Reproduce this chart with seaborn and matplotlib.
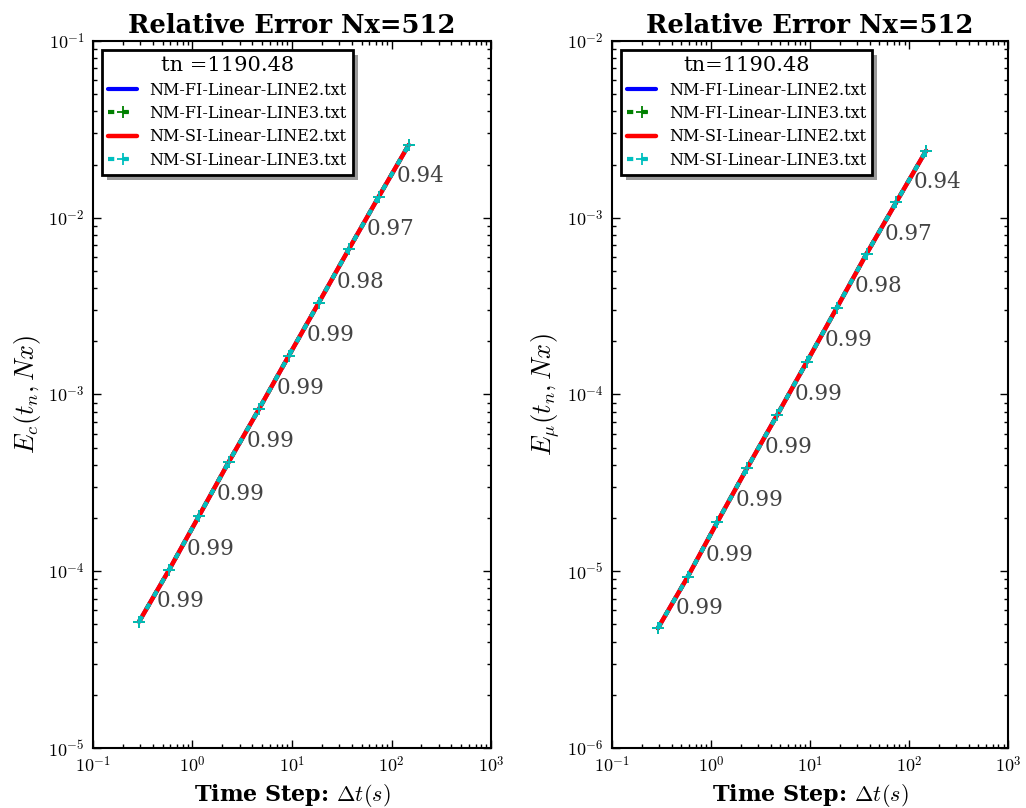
import numpy as np
import pandas as pd
import matplotlib
matplotlib.use("Agg")
import matplotlib.pyplot as plt
import seaborn as sns
from matplotlib.ticker import LogLocator, FuncFormatter, NullFormatter

# ---------------- data ----------------
dt = [0.2906, 0.5813, 1.1626, 2.3252, 4.6503, 9.3006, 18.601, 37.203, 74.405, 148.81]

err_c_FI_L2 = [5.18e-5, 1.016e-4, 2.054e-4, 4.17e-4, 8.25e-4, 1.658e-3, 3.307e-3, 6.63e-3, 1.315e-2, 2.58e-2]
err_c_FI_L3 = [5.18e-5, 1.016e-4, 2.054e-4, 4.17e-4, 8.25e-4, 1.658e-3, 3.307e-3, 6.63e-3, 1.315e-2, 2.58e-2]
err_c_SI_L2 = [5.18e-5, 1.016e-4, 2.054e-4, 4.17e-4, 8.25e-4, 1.658e-3, 3.307e-3, 6.63e-3, 1.315e-2, 2.58e-2]
err_c_SI_L3 = [5.18e-5, 1.016e-4, 2.054e-4, 4.17e-4, 8.25e-4, 1.658e-3, 3.307e-3, 6.63e-3, 1.315e-2, 2.58e-2]

err_mu_FI_L2 = [4.755e-6, 9.29e-6, 1.905e-5, 3.853e-5, 7.64e-5, 1.531e-4, 3.085e-4, 6.245e-4, 1.226e-3, 2.395e-3]
err_mu_FI_L3 = [4.755e-6, 9.29e-6, 1.905e-5, 3.853e-5, 7.64e-5, 1.531e-4, 3.085e-4, 6.245e-4, 1.226e-3, 2.395e-3]
err_mu_SI_L2 = [4.755e-6, 9.29e-6, 1.905e-5, 3.853e-5, 7.64e-5, 1.531e-4, 3.085e-4, 6.245e-4, 1.226e-3, 2.395e-3]
err_mu_SI_L3 = [4.755e-6, 9.29e-6, 1.905e-5, 3.853e-5, 7.64e-5, 1.531e-4, 3.085e-4, 6.245e-4, 1.226e-3, 2.395e-3]

rates_c = ["0.99", "0.99", "0.99", "0.99", "0.99", "0.99", "0.98", "0.97", "0.94"]
rates_mu = ["0.99", "0.99", "0.99", "0.99", "0.99", "0.99", "0.98", "0.97", "0.94"]

series_names = ["NM-FI-Linear-LINE2.txt", "NM-FI-Linear-LINE3.txt",
                "NM-SI-Linear-LINE2.txt", "NM-SI-Linear-LINE3.txt"]
legend_titles = ["tn =1190.48", "tn=1190.48"]
titles = ["Relative Error Nx=512", "Relative Error Nx=512"]
ylabels = [r"$E_c(t_n,Nx)$", r"$E_{\mu}(t_n,Nx)$"]
xlabel_bold = "Time Step: "
xlabel_math = r"$\Delta t(s)$"

# ---------------- style ----------------
sns.set_style("ticks")
plt.rcParams["font.family"] = ["DejaVu Serif"]
plt.rcParams["mathtext.fontset"] = "cm"
plt.rcParams["axes.linewidth"] = 1.5
plt.rcParams["axes.edgecolor"] = "black"
plt.rcParams["text.color"] = "black"
plt.rcParams["axes.labelcolor"] = "black"
plt.rcParams["xtick.color"] = "black"
plt.rcParams["ytick.color"] = "black"
plt.rcParams["xtick.direction"] = "in"
plt.rcParams["ytick.direction"] = "in"
plt.rcParams["xtick.top"] = True
plt.rcParams["ytick.right"] = True
plt.rcParams["lines.scale_dashes"] = True

colors = ["#0000ff", "#008000", "#ff0000", "#00bfbf"]
linestyles = ["-", (0, (1.5, 2.0)), "-", (0, (1.5, 2.0))]
linewidths = [3.0, 3.0, 3.2, 3.0]
markers = [None, "+", None, "+"]

fig = plt.figure(figsize=(10.26, 8.08), dpi=100)
ax1 = fig.add_axes([0.0906, 0.0743, 0.388, 0.875])
ax2 = fig.add_axes([0.5965, 0.0743, 0.386, 0.875])

panels = [
    (ax1, [err_c_FI_L2, err_c_FI_L3, err_c_SI_L2, err_c_SI_L3], rates_c, (1e-5, 1e-1)),
    (ax2, [err_mu_FI_L2, err_mu_FI_L3, err_mu_SI_L2, err_mu_SI_L3], rates_mu, (1e-6, 1e-2)),
]

fmt = FuncFormatter(lambda v, p: r"$10^{%d}$" % int(round(np.log10(v))))

for k, (ax, errs, rates, ylim) in enumerate(panels):
    ax.set_xscale("log")
    ax.set_yscale("log")
    for name, err, c, ls, lw, mk in zip(series_names, errs, colors, linestyles, linewidths, markers):
        df = pd.DataFrame({"dt": dt, "err": err})
        kw = dict(color=c, linestyle=ls, linewidth=lw, label=name)
        if mk is not None:
            kw.update(marker=mk, markersize=8, markeredgewidth=1.3, markeredgecolor=c)
        sns.lineplot(data=df, x="dt", y="err", ax=ax, sort=False, estimator=None, **kw)
    ref = errs[3]
    for i, r in enumerate(rates):
        mx = np.sqrt(dt[i] * dt[i + 1])
        my = np.sqrt(ref[i] * ref[i + 1])
        ax.annotate(r, (mx, my), xytext=(2, -4), textcoords="offset points",
                    ha="left", va="center", fontsize=15.5, color="#444444")
    ax.set_xlim(1e-1, 1e3)
    ax.set_ylim(*ylim)
    ax.xaxis.set_major_locator(LogLocator(base=10, numticks=20))
    ax.yaxis.set_major_locator(LogLocator(base=10, numticks=20))
    ax.xaxis.set_minor_locator(LogLocator(base=10, subs=np.arange(2, 10), numticks=50))
    ax.yaxis.set_minor_locator(LogLocator(base=10, subs=np.arange(2, 10), numticks=50))
    ax.xaxis.set_major_formatter(fmt)
    ax.yaxis.set_major_formatter(fmt)
    ax.xaxis.set_minor_formatter(NullFormatter())
    ax.yaxis.set_minor_formatter(NullFormatter())
    ax.tick_params(which="major", length=6, width=1, labelsize=13, pad=6, colors="black")
    ax.tick_params(which="minor", length=3, width=1, colors="black")
    ax.set_title(titles[k], fontsize=18.5, fontweight="bold", pad=6, color="black")
    ax.set_ylabel(ylabels[k], fontsize=19, color="black")
    ax.set_xlabel(xlabel_bold + xlabel_math, fontsize=16, fontweight="bold", color="black")
    leg = ax.legend(title=legend_titles[k], loc="upper left", fontsize=11.5,
                    title_fontsize=15, frameon=True, fancybox=False,
                    shadow={"ox": 3.5, "oy": -3.5, "facecolor": "0.6", "edgecolor": "none", "alpha": 1},
                    edgecolor="black", framealpha=1, borderaxespad=0.55,
                    labelspacing=0.4, handlelength=1.8, borderpad=0.4)
    leg.get_frame().set_linewidth(2.0)
    leg.get_title().set_color("black")
    for t in leg.get_texts():
        t.set_color("black")
    for s in ax.spines.values():
        s.set_linewidth(1.5)
        s.set_color("black")
        s.set_visible(True)

fig.savefig("out.png", dpi=100)
